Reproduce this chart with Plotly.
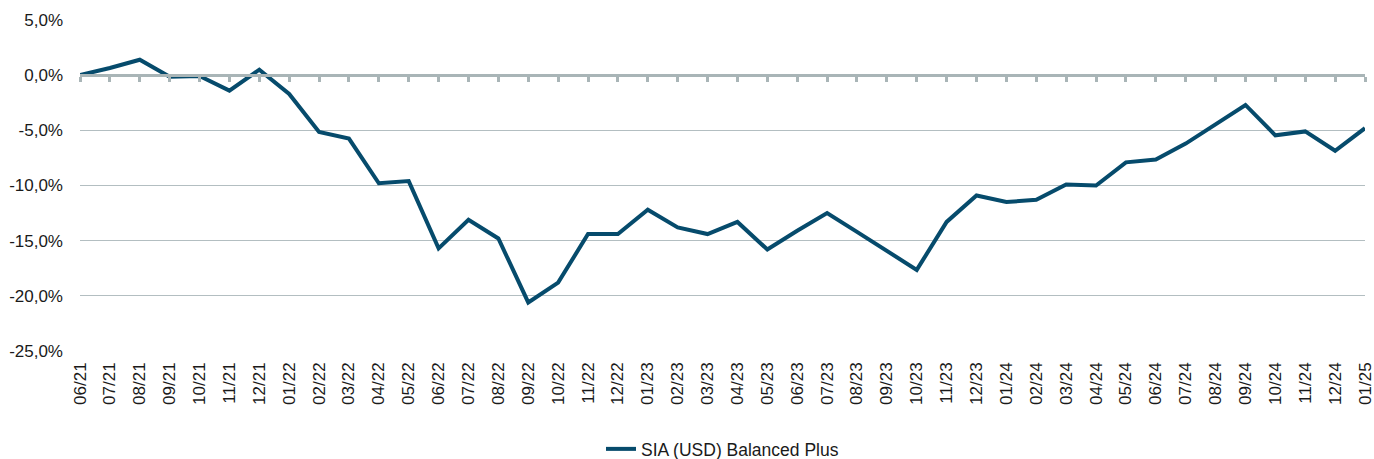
import plotly.graph_objects as go

months = ["06/21", "07/21", "08/21", "09/21", "10/21", "11/21", "12/21",
          "01/22", "02/22", "03/22", "04/22", "05/22", "06/22", "07/22", "08/22", "09/22", "10/22", "11/22", "12/22",
          "01/23", "02/23", "03/23", "04/23", "05/23", "06/23", "07/23", "08/23", "09/23", "10/23", "11/23", "12/23",
          "01/24", "02/24", "03/24", "04/24", "05/24", "06/24", "07/24", "08/24", "09/24", "10/24", "11/24", "12/24",
          "01/25"]
balanced_plus = [0.0, 0.65, 1.4, -0.15, -0.07, -1.4, 0.5,
                 -1.7, -5.15, -5.75, -9.8, -9.6, -15.7, -13.1, -14.8, -20.6, -18.8, -14.4, -14.4,
                 -12.2, -13.8, -14.4, -13.3, -15.8, -14.1, -12.5, -14.2, -15.9, -17.65, -13.3, -10.9,
                 -11.5, -11.3, -9.9, -10.0, -7.9, -7.65, -6.2, -4.4, -2.7, -5.45, -5.1, -6.85,
                 -4.8]
y_ticks = [5, 0, -5, -10, -15, -20, -25]
y_tick_labels = ["5,0%", "0,0%", "-5,0%", "-10,0%", "-15,0%", "-20,0%", "-25,0%"]
y_min, y_max = -25, 5

line_color = "#064b6c"
grid_color = "#b3bec1"
axis_color = "#a9b5b7"
font = dict(family="Liberation Sans, Arial, sans-serif", size=17, color="#1a1a1a")

fig = go.Figure()
fig.add_trace(go.Scatter(
    x=months, y=balanced_plus, mode="lines", name="SIA (USD) Balanced Plus",
    line=dict(color=line_color, width=4), xaxis="x", yaxis="y"))
# helper trace so the zero-line axis has the same categories
fig.add_trace(go.Scatter(
    x=months, y=[None] * len(months), mode="lines", showlegend=False,
    hoverinfo="skip", xaxis="x2", yaxis="y"))

n = len(months)
fig.update_layout(
    width=1374, height=459, autosize=False,
    margin=dict(l=80, r=9, t=20, b=108, autoexpand=False),
    paper_bgcolor="white", plot_bgcolor="white",
    font=font,
    showlegend=True,
    legend=dict(orientation="h", x=0.5, xanchor="center",
                yref="container", y=10 / 459, yanchor="middle",
                font=dict(size=17.5)),
    xaxis=dict(type="category", range=[0, n - 1], showgrid=False, showline=False,
               zeroline=False, ticks="", tickangle=-90, ticklabelstandoff=7,
               tickfont=dict(size=17), automargin=False),
    xaxis2=dict(type="category", matches="x", overlaying="x", anchor="free",
                position=(0 - y_min) / (y_max - y_min),
                showline=True, linecolor=axis_color, linewidth=3,
                ticks="outside", ticklen=5, tickwidth=3, tickcolor=axis_color,
                showticklabels=False, showgrid=False, zeroline=False, automargin=False),
    yaxis=dict(range=[y_min, y_max], tickvals=y_ticks, ticktext=y_tick_labels,
               showgrid=True, gridcolor=grid_color, gridwidth=1, zeroline=False,
               showline=False, ticks="", ticklabelstandoff=16, tickfont=dict(size=17),
               automargin=False),
)

fig.write_html("out.html",
               config={"responsive": False, "displayModeBar": False},
               post_script="document.body.style.margin='0';document.body.style.overflow='hidden';")
